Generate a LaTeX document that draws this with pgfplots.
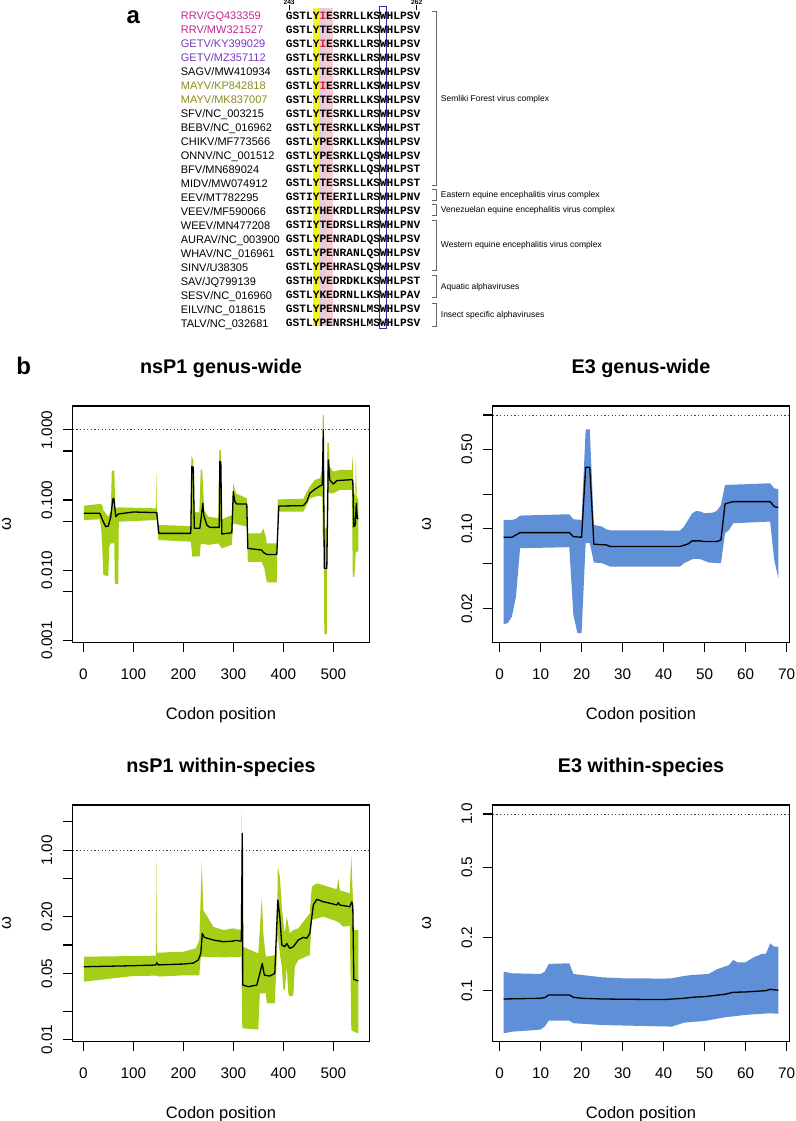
\documentclass[border=0pt]{standalone}
\usepackage{fontspec}
\setmainfont{Liberation Sans}
\newfontfamily\seqfont{Liberation Mono}
\usepackage{pgfplots}
\pgfplotsset{compat=1.18}
\usepgfplotslibrary{fillbetween}

\definecolor{rrv}{HTML}{C4288F}
\definecolor{getv}{HTML}{7A35C4}
\definecolor{mayv}{HTML}{8A8A1E}
\definecolor{hlyellow}{HTML}{F7F51E}
\definecolor{hlpink}{HTML}{F7CDD3}
\definecolor{hllav}{HTML}{E2CBE3}
\definecolor{boxblue}{HTML}{2E3192}
\definecolor{redaa}{HTML}{E0202A}
\definecolor{bandgreen}{HTML}{A5CE17}
\definecolor{bandblue}{HTML}{5F8FD6}

\newcommand\fsz[1]{\fontsize{#1}{#1}\selectfont}
\newcommand\redaa[1]{\textcolor{redaa}{#1}}
% one alignment row: index, colour of name, name, sequence
\newcommand\seqrow[4]{%
  \pgfmathsetmacro\yn{-(19.9+13.97*#1)}%
  \pgfmathsetmacro\ys{-(19.3+13.97*#1)}%
  \node[anchor=base west,inner sep=0pt,text=#2,font=\fsz{11}] at (180.7pt,\yn pt) {#3};
  \node[anchor=base west,inner sep=0pt,font=\seqfont\bfseries\fsz{11.2}] at (285.7pt,\ys pt) {#4};
}
% bracket: top, bottom, label y, label
\newcommand\brk[4]{%
  \draw[black!60,line width=0.6pt] (431.7pt,-#1pt) -- (436.7pt,-#1pt) -- (436.7pt,-#2pt) -- (431.7pt,-#2pt);
  \node[anchor=west,inner sep=0pt,font=\fsz{8.5}] at (440.7pt,-#3pt) {#4};
}

\pgfplotsset{
  rplot/.style={
    scale only axis, enlargelimits=false,
    width=296.6pt,
    axis line style={line width=1.1pt},
    tick align=outside, major tick length=9.5pt,
    every tick/.style={line width=1.1pt,black},
    xtick pos=left, ytick pos=left,
    yminorticks=false, xminorticks=false,
    tick label style={font=\fsz{15.3}},
    yticklabel style={rotate=90,anchor=base,yshift=11pt},
    xticklabel style={anchor=base,yshift=-27.5pt},
    title style={at={(axis description cs:0.5,1)},anchor=base,yshift=26.7pt,font=\bfseries\fsz{19.8}},
    xlabel style={at={(axis description cs:0.5,0)},anchor=base,yshift=-77pt,font=\fsz{16.5}},
    ylabel style={at={(axis description cs:0,0.5)},anchor=center,yshift=66.2pt,font=\fsz{16.5}},
    xlabel={Codon position}, ylabel={ω},
  },
}
\tikzset{
  rmed/.style={black,line width=1.3pt,line join=round},
  rone/.style={black!75,line width=0.8pt,dash pattern=on 1.2pt off 2.4pt},
}

\begin{document}
\begin{tikzpicture}

% ---------------- panel a ----------------
\node[font=\bfseries\fsz{24},anchor=base] at (133.3pt,-23.3pt) {a};
\fill[hlyellow] (312.6pt,-8pt) rectangle (319.3pt,-326pt);
\fill[hllav] (319.3pt,-8pt) rectangle (326pt,-326pt);
\fill[hlpink] (326pt,-8pt) rectangle (332.7pt,-326pt);
\draw[boxblue,line width=0.8pt] (379.8pt,-6.7pt) rectangle (386.5pt,-328.3pt);
\node[font=\bfseries\fsz{6.6},anchor=base] at (289.1pt,-4.3pt) {243};
\node[font=\bfseries\fsz{6.6},anchor=base] at (416.7pt,-4.3pt) {262};
\draw[line width=0.6pt] (289.1pt,-5.5pt) -- (289.1pt,-10.5pt);
\draw[line width=0.6pt] (416.7pt,-5.5pt) -- (416.7pt,-10.5pt);

\seqrow{0}{rrv}{RRV/GQ433359}{GSTLY\redaa{I}ESRRLLKSWHLPSV}
\seqrow{1}{rrv}{RRV/MW321527}{GSTLYTESRRLLKSWHLPSV}
\seqrow{2}{getv}{GETV/KY399029}{GSTLY\redaa{I}ESRKLLRSWHLPSV}
\seqrow{3}{getv}{GETV/MZ357112}{GSTLYTESRKLLRSWHLPSV}
\seqrow{4}{black}{SAGV/MW410934}{GSTLYTESRKLLRSWHLPSV}
\seqrow{5}{mayv}{MAYV/KP842818}{GSTLY\redaa{I}ESRRLLKSWHLPSV}
\seqrow{6}{mayv}{MAYV/MK837007}{GSTLYTESRRLLKSWHLPSV}
\seqrow{7}{black}{SFV/NC\_003215}{GSTLYTESRKLLRSWHLPSV}
\seqrow{8}{black}{BEBV/NC\_016962}{GSTLYTESRKLLKSWHLPST}
\seqrow{9}{black}{CHIKV/MF773566}{GSTLYPESRKLLKSWHLPSV}
\seqrow{10}{black}{ONNV/NC\_001512}{GSTLYPESRKLLQSWHLPSV}
\seqrow{11}{black}{BFV/MN689024}{GSTLYTESRKLLQSWHLPST}
\seqrow{12}{black}{MIDV/MW074912}{GSTLYTESRSLLKSWHLPST}
\seqrow{13}{black}{EEV/MT782295}{GSTIYTEERILLRSWHLPNV}
\seqrow{14}{black}{VEEV/MF590066}{GSTIYHEKRDLLRSWHLPSV}
\seqrow{15}{black}{WEEV/MN477208}{GSTIYTEDRSLLRSWHLPNV}
\seqrow{16}{black}{AURAV/NC\_003900}{GSTLYPENRADLQSWHLPSV}
\seqrow{17}{black}{WHAV/NC\_016961}{GSTLYPENRANLQSWHLPSV}
\seqrow{18}{black}{SINV/U38305}{GSTLYPEHRASLQSWHLPSV}
\seqrow{19}{black}{SAV/JQ799139}{GSTHYVEDRDKLKSWHLPST}
\seqrow{20}{black}{SESV/NC\_016960}{GSTLYKEDRNLLKSWHLPAV}
\seqrow{21}{black}{EILV/NC\_018615}{GSTLYPENRSNLMSWHLPSV}
\seqrow{22}{black}{TALV/NC\_032681}{GSTLYPENRSHLMSWHLPSV}

\brk{11.7}{185.7}{99}{Semliki Forest virus complex}
\brk{189.3}{200.7}{195.7}{Eastern equine encephalitis virus complex}
\brk{204.3}{215}{210.3}{Venezuelan equine encephalitis virus complex}
\brk{220.7}{270}{245}{Western equine encephalitis virus complex}
\brk{275}{297.7}{287}{Aquatic alphaviruses}
\brk{303.3}{326}{315.7}{Insect specific alphaviruses}

% ---------------- panel b ----------------
\node[font=\bfseries\fsz{24},anchor=base] at (23.7pt,-374pt) {b};

% nsP1 genus-wide
\begin{axis}[ymode=log, rplot, at={(72.7pt,-642.3pt)}, anchor=south west, height=236.3pt,
  title={nsP1 genus-wide},
  xmin=-21.2, xmax=572, ymin=0.000933, ymax=2.19,
  xtick={0,100,200,300,400,500}, xticklabels={0,100,200,300,400,500},
  ytick={0.001,0.005,0.01,0.05,0.1,0.5,1},
  yticklabels={0.001,,0.010,,0.100,,1.000}]
\addplot[name path=u, draw=none] coordinates {
 (1,0.083) (33,0.0877) (38,0.085) (40,0.072) (50,0.0578) (55,0.07) (57,0.262) (62,0.262) (64,0.076)
 (70,0.0785) (145,0.076) (146,0.254) (147,0.076) (150,0.044) (215,0.0425) (216,0.425) (220,0.373)
 (222,0.068) (232,0.066) (235,0.283) (238,0.254) (242,0.07) (250,0.0578) (270,0.055) (272,0.518)
 (275,0.518) (277,0.0529) (297,0.061) (300,0.173) (305,0.1245) (327,0.1056) (329,0.0334) (355,0.0334)
 (360,0.0394) (365,0.0299) (367,0.024) (387,0.024) (389,0.102) (440,0.104) (447,0.1315) (453,0.155)
 (463,0.193) (473,0.204) (478,0.268) (479,1.64) (481,1.64) (482,0.0394) (487,0.0394) (488,0.645)
 (491,0.645) (493,0.299) (500,0.254) (513,0.268) (537,0.268) (539,0.44) (540,0.155) (544,0.1056)
 (545,0.394) (547,0.1056) (550,0.1056)};
\addplot[name path=l, draw=none] coordinates {
 (1,0.0518) (33,0.0529) (36,0.0373) (38,0.0204) (40,0.0085) (50,0.0082) (52,0.0216) (55,0.024)
 (62,0.024) (63,0.0063) (70,0.0063) (71,0.049) (147,0.0518) (150,0.0268) (215,0.0254) (218,0.0155)
 (233,0.0158) (235,0.024) (250,0.0229) (270,0.024) (277,0.0204) (297,0.0229) (300,0.0464) (327,0.0416)
 (329,0.0131) (357,0.0131) (362,0.0106) (367,0.0067) (387,0.0067) (389,0.068) (440,0.068) (447,0.0848)
 (453,0.105) (463,0.1116) (473,0.115) (478,0.11) (479,0.03) (481,0.03) (482,0.00122) (487,0.00122)
 (488,0.155) (493,0.1245) (500,0.1245) (513,0.139) (537,0.14) (539,0.008) (542,0.008) (545,0.0183)
 (550,0.0183)};
\addplot[draw=none, fill=bandgreen] fill between[of=u and l];
\addplot[rone] coordinates {(-21.2,1) (572,1)};
\addplot[rmed] coordinates {
 (1,0.0645) (33,0.0645) (40,0.049) (45,0.0416) (50,0.0425) (55,0.0578) (59,0.102) (61,0.1056)
 (65,0.0578) (70,0.0631) (100,0.0674) (147,0.066) (151,0.0334) (215,0.0334) (217,0.299) (220,0.293)
 (222,0.0394) (233,0.0394) (236,0.0578) (239,0.0896) (241,0.06) (247,0.044) (253,0.0407) (272,0.0407)
 (273,0.353) (275,0.353) (277,0.0327) (297,0.0341) (300,0.1315) (303,0.0947) (307,0.0877) (327,0.0877)
 (329,0.0204) (357,0.0193) (360,0.0179) (367,0.0167) (387,0.0167) (391,0.082) (440,0.083) (447,0.0947)
 (453,0.1245) (463,0.142) (473,0.158) (478,0.164) (480,1.0) (482,0.0106) (487,0.0106) (490,0.373)
 (493,0.193) (500,0.169) (507,0.189) (537,0.195) (539,0.19) (541,0.0416) (544,0.044) (546,0.0896)
 (548,0.0547) (550,0.0537)};
\end{axis}

% E3 genus-wide
\begin{axis}[ymode=log, rplot, at={(492.7pt,-642.3pt)}, anchor=south west, height=236.3pt,
  title={E3 genus-wide},
  xmin=-1.68, xmax=70.68, ymin=0.0101, ymax=1.2,
  xtick={0,10,20,30,40,50,60,70}, xticklabels={0,10,20,30,40,50,60,70},
  ytick={0.02,0.05,0.1,0.2,0.5,1},
  yticklabels={0.02,,0.10,,0.50,}]
\addplot[name path=u, draw=none] coordinates {
 (1,0.12) (3,0.12) (4,0.1224) (5,0.1309) (17,0.1345) (18,0.1216) (20,0.12) (21,0.7486) (22,0.7486)
 (23,0.1084) (25,0.1048) (26,0.0993) (27,0.0973) (44,0.0967) (45,0.1048) (47,0.1372) (48,0.1438)
 (49,0.1419) (50,0.1372) (52,0.139) (53,0.1438) (54,0.1624) (55,0.243) (66,0.2515) (67,0.2273)
 (68,0.2228)};
\addplot[name path=l, draw=none] coordinates {
 (1,0.0146) (2,0.01488) (3,0.017) (4,0.0255) (5,0.0677) (17,0.0691) (18,0.0176) (19,0.01216)
 (20,0.01216) (21,0.0749) (22,0.0749) (23,0.0507) (25,0.05) (27,0.0467) (44,0.0467) (45,0.05)
 (47,0.0542) (48,0.0545) (49,0.0542) (51,0.0507) (54,0.05) (55,0.0916) (56,0.098) (57,0.1121)
 (66,0.116) (67,0.0535) (68,0.0369)};
\addplot[draw=none, fill=bandblue] fill between[of=u and l];
\addplot[rone] coordinates {(-1.68,1) (70.68,1)};
\addplot[rmed] coordinates {
 (1,0.0845) (3,0.0845) (4,0.0886) (5,0.0928) (17,0.0928) (18,0.0856) (20,0.0845) (21,0.3475)
 (22,0.3475) (23,0.0734) (26,0.0724) (27,0.07) (44,0.07) (46,0.0739) (47,0.0785) (49,0.0785)
 (50,0.0774) (53,0.0774) (54,0.080) (55,0.1657) (56,0.170) (57,0.1737) (66,0.1737) (67,0.157)
 (68,0.1539)};
\end{axis}

% nsP1 within-species
\begin{axis}[ymode=log, rplot, at={(72.7pt,-1041.7pt)}, anchor=south west, height=236.7pt,
  title={nsP1 within-species},
  xmin=-21.2, xmax=572, ymin=0.00953, ymax=3.01,
  xtick={0,100,200,300,400,500}, xticklabels={0,100,200,300,400,500},
  ytick={0.01,0.02,0.05,0.1,0.2,0.5,1,2},
  yticklabels={0.01,,0.05,,0.20,,1.00,}]
\addplot[name path=u, draw=none] coordinates {
 (1,0.0753) (100,0.0765) (145,0.0772) (146,0.929) (147,0.0772) (148,0.083) (200,0.085) (225,0.0922)
 (232,0.113) (235,0.351) (237,0.758) (240,0.234) (260,0.156) (280,0.144) (300,0.15) (315,0.144)
 (317,2.66) (319,0.096) (350,0.0817) (353,0.144) (357,0.324) (360,0.133) (365,0.0753) (383,0.078)
 (387,0.0922) (389,0.672) (393,0.527) (398,0.22) (403,0.133) (407,0.2) (413,0.133) (420,0.144)
 (430,0.15) (440,0.1763) (453,0.216) (457,0.413) (467,0.448) (480,0.43) (500,0.397) (507,0.39)
 (510,0.506) (513,0.38) (533,0.351) (536,0.892) (539,0.33) (541,0.144) (550,0.144)};
\addplot[name path=l, draw=none] coordinates {
 (1,0.041) (100,0.0471) (147,0.0475) (150,0.0465) (200,0.0478) (232,0.0478) (235,0.075) (240,0.0753)
 (280,0.074) (316,0.0753) (318,0.0132) (350,0.0128) (353,0.0309) (365,0.0309) (367,0.0242)
 (383,0.0242) (389,0.1328) (393,0.0817) (397,0.059) (400,0.0349) (403,0.033) (407,0.059) (410,0.0309)
 (413,0.0285) (420,0.0295) (423,0.059) (430,0.0695) (453,0.0784) (457,0.1837) (480,0.1994)
 (500,0.1837) (510,0.175) (520,0.156) (533,0.16) (536,0.01266) (541,0.0122) (550,0.01167)};
\addplot[draw=none, fill=bandgreen] fill between[of=u and l];
\addplot[rone] coordinates {(-21.2,1) (572,1)};
\addplot[rmed] coordinates {
 (1,0.059) (100,0.0605) (145,0.0615) (147,0.065) (150,0.0617) (200,0.063) (220,0.0645) (230,0.0695)
 (235,0.0817) (238,0.1328) (242,0.1205) (260,0.113) (280,0.1084) (300,0.110) (303,0.112) (316,0.110)
 (318,1.51) (319,0.0378) (330,0.0363) (347,0.0378) (353,0.0502) (358,0.064) (362,0.0482) (373,0.047)
 (383,0.0502) (389,0.2986) (393,0.1994) (397,0.1) (403,0.096) (407,0.1036) (413,0.0922) (420,0.096)
 (430,0.113) (440,0.1205) (447,0.118) (453,0.1328) (460,0.2645) (467,0.3035) (480,0.2869) (500,0.271)
 (507,0.2645) (510,0.28) (513,0.2645) (533,0.254) (537,0.2869) (539,0.26) (541,0.0434) (550,0.0417)};
\end{axis}

% E3 within-species
\begin{axis}[ymode=log, rplot, at={(492.7pt,-1041.7pt)}, anchor=south west, height=236.7pt,
  title={E3 within-species},
  xmin=-1.68, xmax=70.68, ymin=0.0514, ymax=1.124,
  xtick={0,10,20,30,40,50,60,70}, xticklabels={0,10,20,30,40,50,60,70},
  ytick={0.1,0.2,0.5,1},
  yticklabels={0.1,0.2,0.5,1.0}]
\addplot[name path=u, draw=none] coordinates {
 (1,0.1281) (3,0.1254) (10,0.1243) (11,0.128) (12,0.1416) (17,0.1429) (18,0.1243) (20,0.1227)
 (25,0.119) (30,0.1175) (40,0.117) (42,0.1175) (45,0.1211) (47,0.1227) (51,0.1243) (53,0.132)
 (56,0.1397) (57,0.1492) (58,0.1447) (60,0.1447) (62,0.1545) (64,0.1613) (65,0.162) (66,0.1854)
 (67,0.1775) (68,0.1775)};
\addplot[name path=l, draw=none] coordinates {
 (1,0.0574) (3,0.0586) (9,0.0599) (10,0.0603) (11,0.0626) (12,0.0677) (17,0.0677) (18,0.0654)
 (20,0.065) (25,0.0639) (35,0.0631) (42,0.0626) (45,0.0659) (50,0.0674) (55,0.0707) (60,0.0729)
 (66,0.0745) (68,0.074)};
\addplot[draw=none, fill=bandblue] fill between[of=u and l];
\addplot[rone] coordinates {(-1.68,1) (70.68,1)};
\addplot[rmed] coordinates {
 (1,0.0897) (10,0.0905) (11,0.0913) (12,0.0946) (17,0.0946) (18,0.0917) (20,0.0905) (25,0.0897)
 (30,0.0894) (40,0.089) (45,0.0905) (47,0.0917) (50,0.0925) (55,0.0954) (57,0.0979) (60,0.0983)
 (65,0.1) (66,0.1018) (68,0.1005)};
\end{axis}

\pgfresetboundingbox
\useasboundingbox (0pt,0pt) rectangle (795pt,-1121pt);
\end{tikzpicture}
\end{document}
